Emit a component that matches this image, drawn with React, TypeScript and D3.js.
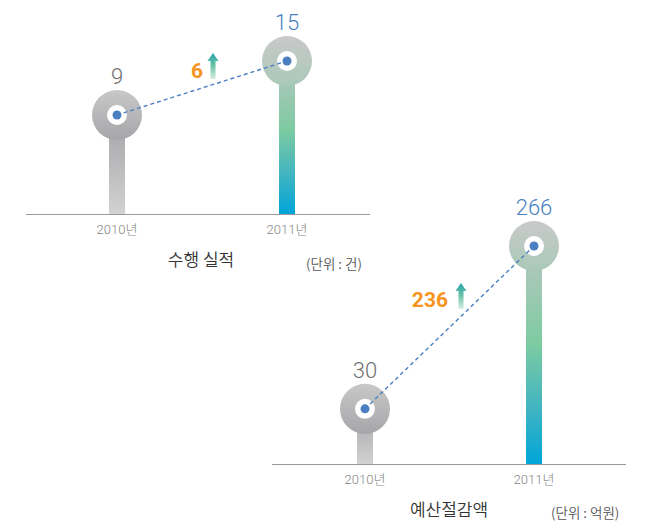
import React from "react";
import * as d3 from "d3";

const years = ["2010년", "2011년"];
const performance = [9, 15];
const savings = [30, 266];
const increases = [6, 236];
const titles = ["수행 실적", "예산절감액"];
const units = ["(단위 : 건)", "(단위 : 억원)"];

const LIGHT = "Roboto, 'Noto Sans CJK KR', sans-serif";
const KR = "'Noto Sans CJK KR', 'Noto Sans', sans-serif";

type PanelProps = {
  id: string;
  values: number[];
  inc: number;
  title: string;
  unit: string;
  xRange: [number, number];
  yDomain: [number, number];
  yRange: [number, number];
  axis: [number, number];
  titleX: number;
  titleY: number;
  unitX: number;
  unitY: number;
  incX: number;
  incY: number;
};

function Arrow({ x, y, id }: { x: number; y: number; id: string }) {
  const p = `M${x},${y} L${x + 5.5},${y + 8} L${x + 2.5},${y + 8} L${x + 2.5},${y + 26} L${x - 2.5},${y + 26} L${x - 2.5},${y + 8} L${x - 5.5},${y + 8} Z`;
  return <path d={p} fill={`url(#${id})`} />;
}

function Panel(p: PanelProps) {
  const x = d3.scalePoint<string>().domain(years).range(p.xRange);
  const y = d3.scaleLinear().domain(p.yDomain).range(p.yRange);
  const base = p.yRange[0];
  const R = 25;
  const pts = years.map((yr, i) => ({ yr, cx: x(yr) as number, cy: y(p.values[i]), v: p.values[i] }));
  return (
    <g>
      <line x1={p.axis[0]} x2={p.axis[1]} y1={base + 0.5} y2={base + 0.5} stroke="#9a9a9a" strokeWidth={1.2} />
      {pts.map((d, i) => (
        <g key={d.yr}>
          <rect x={d.cx - 8} y={d.cy} width={16} height={base - d.cy} fill={`url(#${p.id}bar${i})`} />
          <circle cx={d.cx} cy={d.cy} r={R} fill={`url(#${p.id}circ${i})`} />
          <circle cx={d.cx} cy={d.cy} r={10} fill="#fff" />
          <text
            x={d.cx}
            y={d.cy - R - 6}
            textAnchor="middle"
            fontFamily={LIGHT}
            fontWeight={300}
            fontSize={22}
            fill={i === 0 ? "#707070" : "#4a7fc1"}
          >
            {d.v}
          </text>
          <text x={d.cx} y={base + 20} textAnchor="middle" fontFamily={LIGHT} fontWeight={300} fontSize={13} fill="#858585">
            {d.yr}
          </text>
        </g>
      ))}
      <line
        x1={pts[0].cx}
        y1={pts[0].cy}
        x2={pts[1].cx}
        y2={pts[1].cy}
        stroke="#4a7fc1"
        strokeWidth={1.4}
        strokeDasharray="4 3"
      />
      {pts.map((d) => (
        <circle key={"dot" + d.yr} cx={d.cx} cy={d.cy} r={4.5} fill="#4a7fc1" />
      ))}
      <text
        x={p.incX}
        y={p.incY}
        textAnchor="end"
        fontFamily="Roboto, sans-serif"
        fontWeight={700}
        fontSize={21}
        fill="#f7941d"
      >
        {p.inc}
      </text>
      <text x={p.titleX} y={p.titleY} textAnchor="middle" fontFamily={KR} fontWeight={350} fontSize={17} fill="#333">
        {p.title}
      </text>
      <text x={p.unitX} y={p.unitY} textAnchor="start" fontFamily={KR} fontWeight={350} fontSize={13.5} fill="#555">
        {p.unit}
      </text>
    </g>
  );
}

export default function App() {
  const g1: [string, string] = ["#a3a3a7", "#d2d2d2"];
  return (
    <svg width={664} height={522} style={{ position: "absolute", left: 0, top: 0 }}>
      <defs>
        {["p1", "p2"].map((id) => (
          <React.Fragment key={id}>
            <linearGradient id={`${id}bar0`} x1="0" y1="0" x2="0" y2="1">
              <stop offset="0" stopColor={g1[0]} />
              <stop offset="1" stopColor={g1[1]} />
            </linearGradient>
            <linearGradient id={`${id}bar1`} x1="0" y1="0" x2="0" y2="1">
              <stop offset="0" stopColor="#b8c6c0" />
              <stop offset="0.45" stopColor="#7dcba1" />
              <stop offset="0.75" stopColor="#3fb4c2" />
              <stop offset="1" stopColor="#00a5d8" />
            </linearGradient>
            <linearGradient id={`${id}circ0`} x1="0" y1="0" x2="0" y2="1">
              <stop offset="0" stopColor="#c8c8c8" />
              <stop offset="1" stopColor="#a6a6aa" />
            </linearGradient>
            <linearGradient id={`${id}circ1`} x1="0" y1="0" x2="0" y2="1">
              <stop offset="0" stopColor="#c9c9c9" />
              <stop offset="1" stopColor="#a9c9b8" />
            </linearGradient>
          </React.Fragment>
        ))}
        <linearGradient id="arrowGrad" x1="0" y1="0" x2="0" y2="1">
          <stop offset="0" stopColor="#27a3ad" />
          <stop offset="0.5" stopColor="#6cc4a4" />
          <stop offset="1" stopColor="#d8efe4" />
        </linearGradient>
      </defs>
      <Panel
        id="p1"
        values={performance}
        inc={increases[0]}
        title={titles[0]}
        unit={units[0]}
        xRange={[117, 287]}
        yDomain={[-2, 15]}
        yRange={[214, 61]}
        axis={[26, 370]}
        titleX={201}
        titleY={266}
        unitX={306}
        unitY={269}
        incX={203}
        incY={78}
      />
      <Panel
        id="p2"
        values={savings}
        inc={increases[1]}
        title={titles[1]}
        unit={units[1]}
        xRange={[365, 534]}
        yDomain={[-50, 266]}
        yRange={[464, 246]}
        axis={[272, 626]}
        titleX={449}
        titleY={516}
        unitX={551}
        unitY={518}
        incX={448}
        incY={307}
      />
      <Arrow x={213} y={53} id="arrowGrad" />
      <Arrow x={461} y={283} id="arrowGrad" />
    </svg>
  );
}
